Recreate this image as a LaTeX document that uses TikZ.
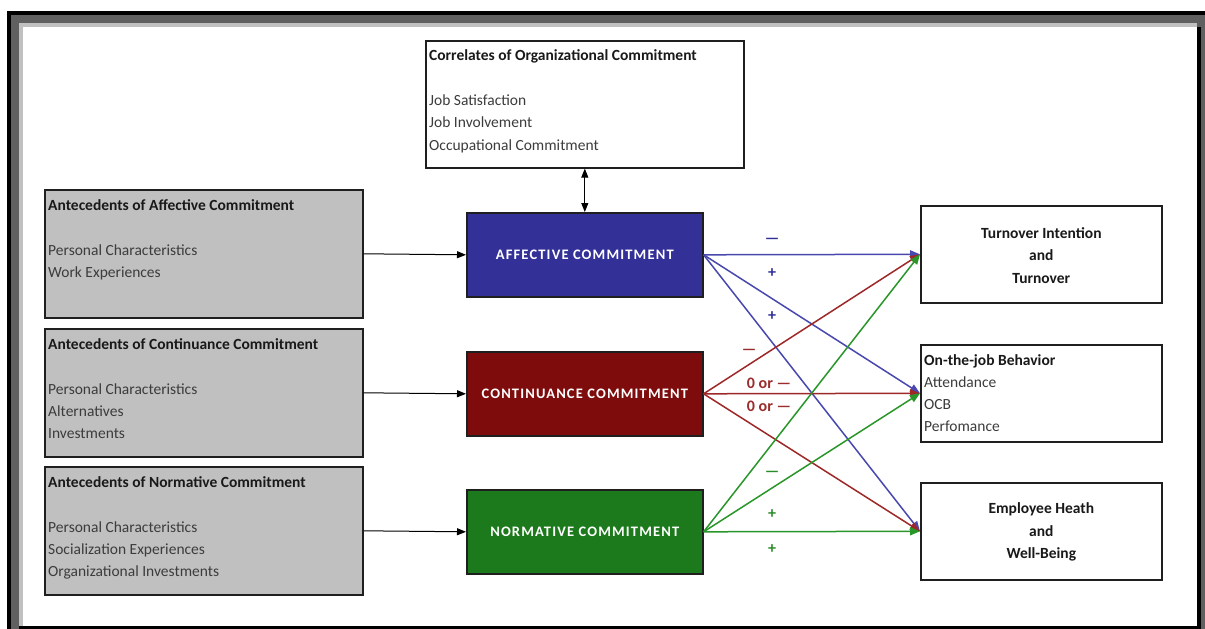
\documentclass[tikz,border=0pt]{standalone}
\usepackage{fontspec}
\setmainfont{Carlito}
\newfontfamily\capsfont[LetterSpace=8]{Carlito}
\usetikzlibrary{arrows.meta,shadows}
\definecolor{boxblue}{RGB}{51,49,152}
\definecolor{boxred}{RGB}{127,12,12}
\definecolor{boxgreen}{RGB}{28,122,28}
\definecolor{lineblue}{RGB}{72,72,175}
\definecolor{linered}{RGB}{158,40,40}
\definecolor{linegreen}{RGB}{40,150,40}
\definecolor{labblue}{RGB}{45,45,150}
\definecolor{labred}{RGB}{155,45,45}
\definecolor{labgreen}{RGB}{40,140,40}
\definecolor{txt}{RGB}{60,60,60}
\definecolor{ttl}{RGB}{25,25,25}
\definecolor{graybox}{RGB}{192,192,192}
\definecolor{framedark}{RGB}{96,96,96}
\definecolor{framelight}{RGB}{192,192,192}
\begin{document}
\begin{tikzpicture}[x=1pt,y=-1pt,
  font=\fontsize{15.5}{22}\selectfont,
  boxbase/.style={draw=black!88, line width=1.6pt, anchor=north west, inner sep=0pt,
     drop shadow={shadow xshift=1.5pt, shadow yshift=-1.5pt, opacity=0.35}},
  antebox/.style={boxbase, fill=graybox, minimum width=318pt, minimum height=128pt},
  whitebox/.style={boxbase, fill=white},
  outbox/.style={whitebox, minimum width=241pt, minimum height=97pt},
  commbox/.style={boxbase, minimum width=236pt, minimum height=84pt, text=white,
     font=\capsfont\bfseries\fontsize{14.5}{16}\selectfont},
  boxtext/.style={anchor=north west, align=left, inner sep=0pt, text=txt,
     font=\fontsize{15.5}{22}\selectfont},
  centertext/.style={align=center, inner sep=0pt, text=ttl,
     font=\bfseries\fontsize{15.5}{22.5}\selectfont},
  blackarrow/.style={line width=1pt, black, -{Triangle[length=9pt,width=7pt]}},
  colarrow/.style={line width=1.5pt, -{Triangle[length=10pt,width=8pt]}},
  siglab/.style={inner sep=0pt, font=\bfseries\fontsize{16}{18}\selectfont}
]
\useasboundingbox (0,0) rectangle (1205,629);
% frame
\fill[framedark] (7,11) rectangle (1205,629);
\fill[black] (7,11) rectangle (1205,15);
\fill[black] (7,11) rectangle (11,629);
\fill[framelight] (19,23) rectangle (1197,626);
\fill[white] (23,27) rectangle (1197,626);
\fill[black] (1197,27) rectangle (1201,629);
\fill[black] (19,626) rectangle (1201,629);

% correlates box
\node[whitebox, minimum width=318pt, minimum height=127pt] (corr) at (425,40) {};
\node[boxtext] (corrtxt) at ([shift={(4,9)}]corr.north west)
  {\textcolor{ttl}{\textbf{Correlates of Organizational Commitment}}\\[23pt]
   Job Satisfaction\\Job Involvement\\[1pt]Occupational Commitment};

% antecedent boxes
\node[antebox] (aa) at (44,189) {};
\node[boxtext] (aatxt) at ([shift={(4,10)}]aa.north west)
  {\textcolor{ttl}{\textbf{Antecedents of Affective Commitment}}\\[23pt]
   Personal Characteristics\\Work Experiences};
\node[antebox] (ca) at (44,328) {};
\node[boxtext] (catxt) at ([shift={(4,10)}]ca.north west)
  {\textcolor{ttl}{\textbf{Antecedents of Continuance Commitment}}\\[23pt]
   Personal Characteristics\\Alternatives\\Investments};
\node[antebox] (na) at (44,466) {};
\node[boxtext] (natxt) at ([shift={(4,10)}]na.north west)
  {\textcolor{ttl}{\textbf{Antecedents of Normative Commitment}}\\[23pt]
   Personal Characteristics\\Socialization Experiences\\Organizational Investments};

% commitment boxes
\node[commbox, fill=boxblue] (ac) at (466,212) {AFFECTIVE COMMITMENT};
\node[commbox, fill=boxred] (cc) at (466,351) {CONTINUANCE COMMITMENT};
\node[commbox, fill=boxgreen] (nc) at (466,489) {NORMATIVE COMMITMENT};

% outcome boxes
\node[outbox] (to) at (920,205) {};
\node[centertext] (totxt) at ([yshift=-1pt]to.center) {Turnover Intention\\and\\Turnover};
\node[outbox] (oj) at (920,344) {};
\node[boxtext] (ojtxt) at ([shift={(4,10)}]oj.north west)
  {\textcolor{ttl}{\textbf{On-the-job Behavior}}\\[0.5pt]Attendance\\OCB\\Perfomance};
\node[outbox] (eh) at (920,482) {};
\node[centertext] (ehtxt) at ([yshift=-1pt]eh.center) {Employee Heath\\and\\Well-Being};

% black arrows
\draw[blackarrow] (aa.east) -- (ac.west);
\draw[blackarrow] (ca.east) -- (cc.west);
\draw[blackarrow] (na.east) -- (nc.west);
\draw[line width=1pt, black, {Triangle[length=9pt,width=7pt]}-{Triangle[length=9pt,width=7pt]}] (corr.south) -- (ac.north);

% colored arrows
\draw[colarrow, lineblue] (ac.east) -- (to.west);
\draw[colarrow, lineblue] (ac.east) -- (oj.west);
\draw[colarrow, lineblue] (ac.east) -- (eh.west);
\draw[colarrow, linered] (cc.east) -- (to.west);
\draw[colarrow, linered] (cc.east) -- (oj.west);
\draw[colarrow, linered] (cc.east) -- (eh.west);
\draw[colarrow, linegreen] (nc.east) -- (to.west);
\draw[colarrow, linegreen] (nc.east) -- (oj.west);
\draw[colarrow, linegreen] (nc.east) -- (eh.west);

% sign labels
\node[siglab, text=labblue] (lb1) at (772,241) {—};
\node[siglab, text=labblue] (lb2) at (772,273) {+};
\node[siglab, text=labblue] (lb3) at (772,316) {+};
\node[siglab, text=labred] (lr1) at (749,352) {—};
\node[siglab, text=labred] (lr2) at (769,383) {0 or —};
\node[siglab, text=labred] (lr3) at (769,406) {0 or —};
\node[siglab, text=labgreen] (lg1) at (772,474) {—};
\node[siglab, text=labgreen] (lg2) at (772,514) {+};
\node[siglab, text=labgreen] (lg3) at (772,549) {+};
\end{tikzpicture}
\end{document}
